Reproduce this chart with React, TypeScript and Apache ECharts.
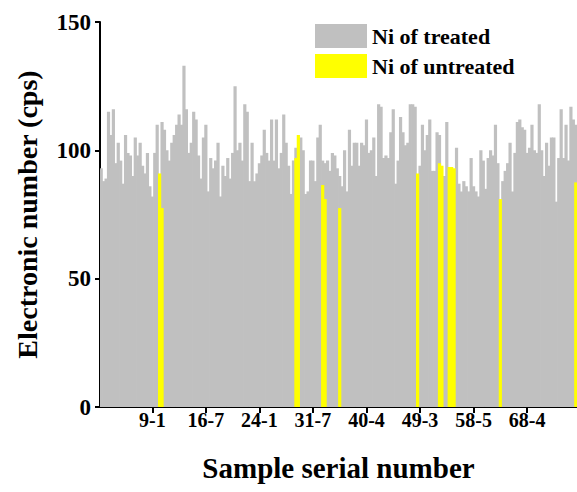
import React, { useEffect, useRef } from "react";
import * as echarts from "echarts";

// Ni of treated (gray bars), one value per sample
const treated = [
  93, 88, 89, 115, 106, 116, 95, 103, 96, 87, 106, 99, 98, 90, 105, 98, 103, 94, 91, 99, 86, 82, 99, 110,
  88, 111, 108, 100, 96, 103, 106, 110, 114, 110, 133,
  116, 99, 103, 115, 112, 98, 89, 105, 110, 84, 97, 93, 96, 103, 82, 94, 90, 97, 89, 99, 125, 100, 103, 96, 118, 115, 88, 103, 88, 91, 95,
  98, 108, 99, 96, 112, 96, 112, 93, 99, 114, 103, 94, 83, 96, 101,
  95, 105, 100, 83, 84, 96, 96, 88, 105, 110, 96, 95, 96, 92, 99, 98, 93,
  90, 86, 100, 84, 108, 94, 103, 103, 94, 103, 102, 112, 99, 100, 105, 90, 118, 117, 97, 98, 97, 107, 116, 87, 96, 113, 107, 102, 103, 118, 118, 117, 88,
  94, 110, 100, 106, 112, 92, 92, 107, 106, 87, 90, 111, 90, 90, 90,
  101, 87, 84, 88, 86, 84, 97, 86, 84, 82, 100, 96, 85, 97, 100, 98, 110, 95, 80,
  88, 92, 95, 103, 84, 99, 111, 112, 109, 108, 99, 101, 110, 100, 99, 118, 100, 90, 103, 94, 105, 105, 80, 97, 116, 97, 110, 96, 117, 112, 110,
];

// Ni of untreated (yellow bars): sample positions and values
const untreatedIndex = [24, 25, 80, 81, 91, 92, 98, 130, 139, 140, 143, 144, 145, 164, 195];
const untreatedValues = [91, 77.5, 97, 106, 86.5, 81, 77.5, 91, 95, 94, 93.5, 93.5, 93, 81, 87.5];

// x-axis tick labels and their sample positions
const tickIndex = [21, 43, 65, 87, 109, 131, 153, 175];
const tickLabels = ["9-1", "16-7", "24-1", "31-7", "40-4", "49-3", "58-5", "68-4"];

const yTicks = { min: 0, max: 150, interval: 50 };

const FONT = '"Liberation Serif", "Times New Roman", serif';
const GRAY = "#C0C0C0";
const YELLOW = "#FFFF00";

export default function App() {
  const ref = useRef<HTMLDivElement>(null);

  useEffect(() => {
    if (!ref.current) return;
    const chart = echarts.init(ref.current, undefined, { renderer: "svg" });

    const labelMap: Record<number, string> = {};
    tickIndex.forEach((idx, k) => (labelMap[idx] = tickLabels[k]));
    const categories = treated.map((_, i) => labelMap[i] ?? `S${i + 1}`);

    const untreated: (number | null)[] = treated.map(() => null);
    untreatedIndex.forEach((idx, k) => (untreated[idx] = untreatedValues[k]));

    const showTick = (index: number) => labelMap[index] !== undefined;

    chart.setOption({
      animation: false,
      backgroundColor: "#ffffff",
      grid: {
        left: 100,
        right: 0,
        top: 22,
        bottom: 85,
        containLabel: false,
        outerBoundsMode: "none",
      },
      legend: {
        data: ["Ni of treated", "Ni of untreated"],
        orient: "vertical",
        left: 310,
        top: 19,
        itemWidth: 52,
        itemHeight: 24,
        itemGap: 6,
        icon: "rect",
        textStyle: {
          fontFamily: FONT,
          fontWeight: "bold",
          fontSize: 22,
          color: "#000",
        },
      },
      xAxis: {
        type: "category",
        data: categories,
        name: "Sample serial number",
        nameLocation: "middle",
        nameGap: 46,
        nameTextStyle: {
          fontFamily: FONT,
          fontWeight: "bold",
          fontSize: 29,
          color: "#000",
        },
        axisLine: { show: true, lineStyle: { color: "#000", width: 2 } },
        axisTick: {
          show: true,
          alignWithLabel: true,
          interval: showTick,
          length: 6,
          lineStyle: { color: "#000", width: 2 },
        },
        axisLabel: {
          interval: showTick,
          margin: 3,
          fontFamily: FONT,
          fontWeight: "bold",
          fontSize: 20,
          color: "#000",
        },
        splitLine: { show: false },
      },
      yAxis: {
        type: "value",
        min: yTicks.min,
        max: yTicks.max,
        interval: yTicks.interval,
        name: "Electronic number (cps)",
        nameLocation: "middle",
        nameGap: 59,
        nameTextStyle: {
          fontFamily: FONT,
          fontWeight: "bold",
          fontSize: 28,
          color: "#000",
        },
        axisLine: { show: true, lineStyle: { color: "#000", width: 2 } },
        axisTick: { show: true, length: 5, lineStyle: { color: "#000", width: 2 } },
        axisLabel: {
          margin: 9,
          fontFamily: FONT,
          fontWeight: "bold",
          fontSize: 23,
          color: "#000",
        },
        splitLine: { show: false },
      },
      series: [
        {
          name: "Ni of treated",
          type: "bar",
          data: treated,
          barWidth: 3.2,
          barGap: "-100%",
          itemStyle: { color: GRAY },
        },
        {
          name: "Ni of untreated",
          type: "bar",
          data: untreated,
          barWidth: 3.2,
          barGap: "-100%",
          itemStyle: { color: YELLOW },
        },
      ],
    });

    return () => chart.dispose();
  }, []);

  return (
    <div
      ref={ref}
      style={{ position: "fixed", left: 0, top: 0, width: 577, height: 492, background: "#fff" }}
    />
  );
}
